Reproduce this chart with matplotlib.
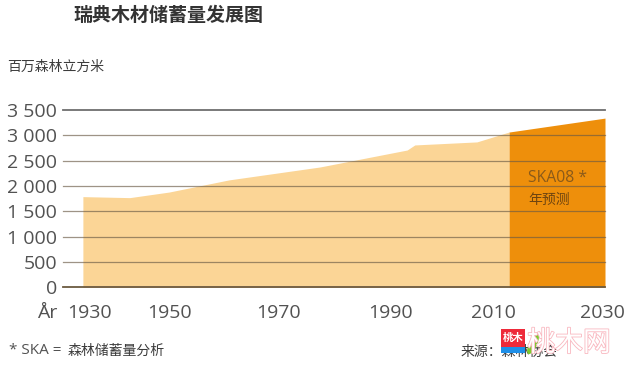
import matplotlib
matplotlib.use('Agg')
import matplotlib.pyplot as plt
import matplotlib.patheffects as pe
from matplotlib.patches import Rectangle, Ellipse
from matplotlib.transforms import IdentityTransform

plt.rcParams['font.family'] = ['Noto Sans CJK SC', 'DejaVu Sans']

years_hist = [1934.2, 1942.8, 1950, 1961, 1977.7, 1993.7, 1995.1, 2006.5, 2012.4]
stock_hist = [1790, 1770, 1880, 2120, 2375, 2710, 2810, 2870, 3065]
years_fcst = [2012.4, 2030]
stock_fcst = [3065, 3340]
y_ticks = [0, 500, 1000, 1500, 2000, 2500, 3000, 3500]
y_labels = ['0', '500', '1 000', '1 500', '2 000', '2 500', '3 000', '3 500']
# the year labels are unevenly spaced in the source
x_tick_pos = [1935.5, 1950, 1970, 1990.6, 2009.6, 2029.5]
x_tick_labels = ['1930', '1950', '1970', '1990', '2010', '2030']

TXT = '#525252'
LATIN = ['Open Sans', 'DejaVu Sans']

fig = plt.figure(figsize=(6.3, 3.68), dpi=100)
ax = fig.add_axes([0, 0, 1, 1])
# pixel mapping: 2030 -> 605px, 5.45 px/year; 0 -> 287.3px, 3500 -> 110px
ax.set_xlim(2030 - 605 / 5.45, 2030 + 25 / 5.45)
ppu = (287.3 - 110) / 3500
ax.set_ylim(-(368 - 287.3) / ppu, 287.3 / ppu)
ax.axis('off')


def fx(px):
    return 2030 - (605 - px) / 5.45


def fy(py):
    return (287.3 - py) / ppu


ax.fill_between(years_hist, stock_hist, 0, color='#fbd596', lw=0, zorder=1)
ax.fill_between(years_fcst, stock_fcst, 0, color='#ee8f0b', lw=0, zorder=2)

for v, lab in zip(y_ticks, y_labels):
    if v == 3500:
        ax.plot([fx(63), 2030], [v, v], color='#6e6e6e', lw=1.3, zorder=3)
    elif v == 0:
        ax.plot([fx(63), 2030], [v, v], color='#6b5a40', lw=1.3, zorder=3)
    else:
        ax.plot([fx(63), 2030], [v, v], color='#6a5a45', lw=0.9, alpha=0.65, zorder=3)
    ax.text(fx(57), v, lab, ha='right', va='center_baseline', fontsize=14,
            color=TXT, family=LATIN)

y_lab = fy(311)
for x, lab in zip(x_tick_pos, x_tick_labels):
    ax.text(x, y_lab, lab, ha='center', va='center_baseline', fontsize=14,
            color=TXT, family=LATIN)
ax.text(fx(57), y_lab, 'År', ha='right', va='center_baseline', fontsize=14,
        color=TXT, family=LATIN)

ax.text(fx(73), fy(15), '瑞典木材储蓄量发展图', fontsize=13.7, fontweight='bold',
        color='#333333', va='center')
ax.text(fx(7), fy(67), '百万森林立方米', fontsize=10, color='#3c3c3c', va='center')
ax.text(fx(528), fy(178), 'SKA08 *', fontsize=11.3, color='#8a5a1a', va='center',
        family=LATIN, zorder=5)
ax.text(fx(528), fy(200), '年预测', fontsize=10, color='#6e4410', va='center', zorder=5)
ax.text(fx(9), fy(351), '* SKA = ', fontsize=11, color=TXT, va='center', family=LATIN)
ax.text(fx(68), fy(351), '森林储蓄量分析', fontsize=10, color='#3c3c3c', va='center')
ax.text(fx(461), fy(352), '来源：森林协会', fontsize=10, color='#3c3c3c', va='center')

# watermark logo, it sits on top of the source line in the reference too
ax.add_patch(Rectangle((fx(501), fy(353)), 24 / 5.45, 24 / ppu, color='#ee2a3a', lw=0, zorder=6))
ax.add_patch(Rectangle((fx(501), fy(353)), 24 / 5.45, 6 / ppu, color='#1e8fe8', lw=0, zorder=6))
ax.text(fx(513), fy(338), '桃木', fontsize=7.5, color='white', ha='center', va='center',
        fontweight='bold', zorder=7)
ax.add_patch(Ellipse((533, 368 - 344), 8, 22, angle=-25, color='#7ccb2c', lw=0,
                     transform=IdentityTransform(), zorder=6))
ax.text(fx(569), fy(343), '桃木网', fontsize=20, color='white', ha='center', va='center',
        zorder=6, path_effects=[pe.withStroke(linewidth=1.2, foreground='#f9b8c0')])

fig.savefig('out.png', dpi=100)
